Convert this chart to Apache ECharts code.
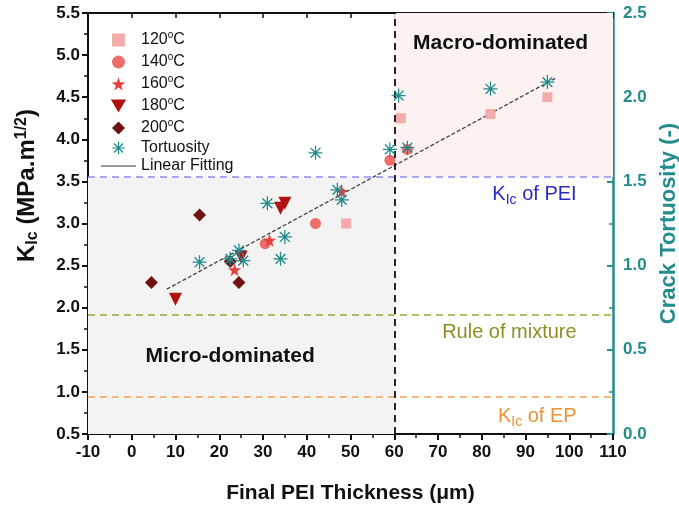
<!DOCTYPE html>
<html>
<head>
<meta charset="utf-8">
<script src="https://cdn.jsdelivr.net/npm/echarts@6/dist/echarts.min.js"></script>
<style>
	html, body {margin: 0; padding: 0; background: #fff;}
	#chart {width: 679px; height: 506px;}
</style>
</head>
<body>
<div id="chart"></div>
<script>
// data (x = final PEI thickness, y = KIc or tortuosity)
const x120 = [49, 61.5, 82, 95];
const y120 = [3.0, 4.25, 4.3, 4.5];
const x140 = [30.5, 42, 59, 63];
const y140 = [2.76, 3.0, 3.75, 3.88];
const x160 = [23.5, 31.5, 48];
const y160 = [2.45, 2.8, 3.38];
const x180 = [10, 25, 34, 35];
const y180 = [2.1, 2.6, 3.18, 3.24];
const x200 = [4.5, 15.5, 22.5, 24.5];
const y200 = [2.3, 3.1, 2.55, 2.3];
const xTort = [15.5, 22.5, 24.5, 25.5, 31, 34, 35, 42, 47, 48, 59, 61, 63, 82, 95];
const yTort = [1.02, 1.04, 1.09, 1.03, 1.37, 1.04, 1.17, 1.67, 1.45, 1.39, 1.69, 2.01, 1.70, 2.05, 2.09];
const fitX = [8, 97];
const fitY = [2.22, 4.73];
const kPEI = 3.55, kMix = 1.92, kEP = 0.94, split = 60;

const zip = (a, b) => a.map((v, i) => [v, b[i]]);
const square = 'path://M-5,-5 L5,-5 L5,5 L-5,5 Z';
const diamond = 'path://M0,-10 L10,0 L0,10 L-10,0 Z';
const starPath = 'path://M0,-10 L2.35,-3.24 L9.51,-3.09 L3.8,1.24 L5.88,8.09 L0,4 L-5.88,8.09 L-3.8,1.24 L-9.51,-3.09 L-2.35,-3.24 Z';
const downTri = 'path://M-10,-8 L10,-8 L0,9 Z';
const asterisk = 'path://M-0.9,-10 L0.9,-10 L0.9,10 L-0.9,10 Z M-10,-0.9 L10,-0.9 L10,0.9 L-10,0.9 Z M-6.3,-7.7 L7.7,6.3 L6.3,7.7 L-7.7,-6.3 Z M7.7,-6.3 L-6.3,7.7 L-7.7,6.3 L6.3,-7.7 Z';
const teal = '#238c8c';
const font = 'Liberation Sans, Arial, sans-serif';

function note(x, y, text, color, size, weight, pos) {
	return {
		coord: [x, y], symbol: 'rect', symbolSize: 1, itemStyle: {color: 'rgba(0,0,0,0)'},
		label: {
			show: true, position: pos || 'inside', distance: 0, formatter: text, color: color,
			fontSize: size, fontWeight: weight, fontFamily: font,
			rich: {sub: {fontSize: size - 6, color: color, padding: [11, 0, 0, 0], fontFamily: font}}
		}
	};
}

const option = {
	animation: false,
	backgroundColor: '#fff',
	grid: {left: 88, right: 66, top: 13, bottom: 72, outerBoundsMode: 'none', containLabel: false},
	legend: {
		orient: 'vertical', left: 95, top: 25, itemWidth: 35, itemHeight: 13, itemGap: 2,
		textStyle: {
			fontSize: 16, lineHeight: 16, fontFamily: font, color: '#111',
			rich: {s: {fontSize: 10, lineHeight: 6, padding: [0, 0, 10, 0], fontFamily: font, color: '#111'}}
		},
		formatter: function (name) {
			return name.replace('°', '{s|o}');
		},
		data: ['120°C', '140°C', '160°C', '180°C', '200°C', 'Tortuosity',
			{name: 'Linear Fitting', itemStyle: {opacity: 0}, lineStyle: {type: 'solid', color: '#999', width: 2}}]
	},
	xAxis: [{
		type: 'value', min: -10, max: 110, interval: 10, position: 'bottom',
		name: 'Final PEI Thickness (μm)', nameLocation: 'middle', nameGap: 49,
		nameTextStyle: {fontSize: 21, fontWeight: 'bold', color: '#111', fontFamily: font},
		axisLine: {show: true, onZero: false, lineStyle: {color: '#111', width: 2}},
		axisTick: {show: true, length: 6, lineStyle: {color: '#111', width: 2}},
		minorTick: {show: true, splitNumber: 2, length: 4, lineStyle: {color: '#111', width: 1.5}},
		axisLabel: {fontSize: 17, fontWeight: 'bold', color: '#111', margin: 10, fontFamily: font},
		splitLine: {show: false}
	}, {
		type: 'value', min: -10, max: 110, interval: 10, position: 'top',
		axisLine: {show: true, onZero: false, lineStyle: {color: '#111', width: 2}},
		axisTick: {show: true, inside: true, length: 5, lineStyle: {color: '#111', width: 1.5}},
		axisLabel: {show: false}, splitLine: {show: false}
	}],
	yAxis: [{
		type: 'value', min: 0.5, max: 5.5, interval: 0.5, position: 'left',
		name: 'K{sub|Ic} (MPa.m{sup|1/2})', nameLocation: 'middle', nameGap: 47, nameRotate: 90,
		nameTextStyle: {
			fontSize: 24, fontWeight: 'bold', color: '#111', fontFamily: font, padding: [0, 0, 0, 76],
			rich: {
				sub: {fontSize: 16, fontWeight: 'bold', color: '#111', padding: [12, 0, 0, 0], fontFamily: font},
				sup: {fontSize: 16, fontWeight: 'bold', color: '#111', padding: [0, 0, 11, 0], fontFamily: font}
			}
		},
		axisLine: {show: true, onZero: false, lineStyle: {color: '#111', width: 2}},
		axisTick: {show: true, length: 6, lineStyle: {color: '#111', width: 2}},
		minorTick: {show: true, splitNumber: 2, length: 4, lineStyle: {color: '#111', width: 1.5}},
		axisLabel: {fontSize: 17, fontWeight: 'bold', color: '#111', margin: 8, fontFamily: font,
			formatter: v => v.toFixed(1)},
		splitLine: {show: false}
	}, {
		type: 'value', min: 0, max: 2.5, interval: 0.5, position: 'right',
		name: 'Crack Tortuosity (-)', nameLocation: 'middle', nameGap: 42, nameRotate: 90,
		nameTextStyle: {fontSize: 22, fontWeight: 'bold', color: teal, fontFamily: font},
		axisLine: {show: true, onZero: false, lineStyle: {color: teal, width: 2.5}},
		axisTick: {show: true, inside: true, length: 6, lineStyle: {color: teal, width: 2}},
		minorTick: {show: true, splitNumber: 2, length: 4, lineStyle: {color: teal, width: 1.5}},
		axisLabel: {fontSize: 17, fontWeight: 'bold', color: teal, margin: 10, fontFamily: font,
			formatter: v => v.toFixed(1)},
		splitLine: {show: false}
	}],
	series: [{
		name: 'regions', type: 'scatter', data: [], silent: true, z: 1,
		markArea: {
			silent: true,
			data: [
				[{xAxis: -10, yAxis: 0.5, itemStyle: {color: '#f3f3f3'}}, {xAxis: split, yAxis: kPEI}],
				[{xAxis: split, yAxis: kPEI, itemStyle: {color: '#fdf2f2'}}, {xAxis: 110, yAxis: 5.5}]
			]
		},
		markLine: {
			silent: true, symbol: 'none', label: {show: false},
			data: [
				{yAxis: kPEI, lineStyle: {color: '#8c8cf2', type: [7, 5], width: 1.5}},
				{yAxis: kMix, lineStyle: {color: '#a3a33a', type: [7, 5], width: 1.5}},
				{yAxis: kEP, lineStyle: {color: '#f0a45a', type: [7, 5], width: 1.5}},
				{xAxis: split, lineStyle: {color: '#111', type: [7, 5], width: 1.8}}
			]
		},
		markPoint: {
			silent: true,
			data: [
				note(101.8, 3.34, 'K{sub|Ic} of PEI', '#2a2ac8', 20, 'normal', 'left'),
				note(101.8, 1.71, 'Rule of mixture', '#8e8e25', 20, 'normal', 'left'),
				note(101.8, 0.71, 'K{sub|Ic} of EP', '#ec9335', 20, 'normal', 'left'),
				note(22.5, 1.42, 'Micro-dominated', '#111', 21, 'bold'),
				note(84.3, 5.14, 'Macro-dominated', '#111', 21, 'bold')
			]
		}
	}, {
		name: 'Linear Fitting', type: 'line', data: zip(fitX, fitY), symbol: 'none', showSymbol: false, z: 3,
		lineStyle: {color: '#444', width: 1.3, type: [4, 2]}
	}, {
		name: '120°C', type: 'scatter', data: zip(x120, y120), symbol: square, symbolSize: 10, z: 4,
		itemStyle: {color: '#f5abab', opacity: 1}
	}, {
		name: '140°C', type: 'scatter', data: zip(x140, y140), symbol: 'circle', symbolSize: 11, z: 4,
		itemStyle: {color: '#ef6c6c', opacity: 1}
	}, {
		name: '160°C', type: 'scatter', data: zip(x160, y160), symbol: starPath, symbolSize: 13, z: 4,
		itemStyle: {color: '#e8403f', opacity: 1}
	}, {
		name: '180°C', type: 'scatter', data: zip(x180, y180), symbol: downTri, symbolSize: 13, z: 4,
		itemStyle: {color: '#b01210', opacity: 1}
	}, {
		name: '200°C', type: 'scatter', data: zip(x200, y200), symbol: diamond, symbolSize: 13, z: 4,
		itemStyle: {color: '#6e1212', opacity: 1}
	}, {
		name: 'Tortuosity', type: 'scatter', yAxisIndex: 1, data: zip(xTort, yTort), symbol: asterisk, symbolSize: 14, z: 5,
		itemStyle: {color: teal, opacity: 1}
	}]
};
echarts.init(document.getElementById('chart')).setOption(option);
</script>
</body>
</html>
